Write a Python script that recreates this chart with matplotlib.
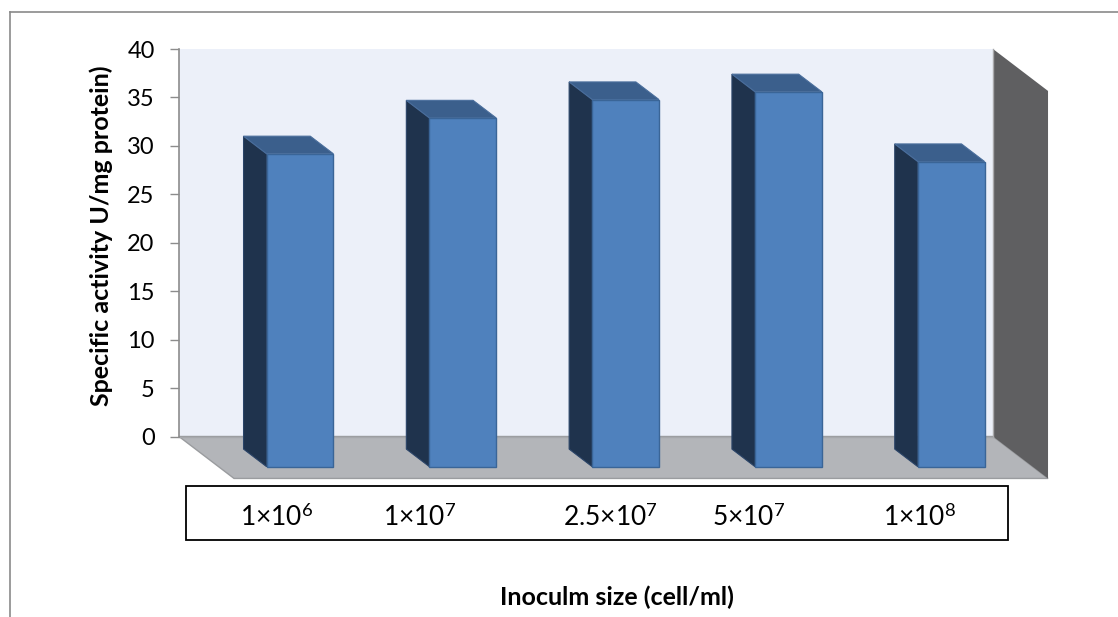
import matplotlib
matplotlib.use('Agg')
import matplotlib.pyplot as plt
from matplotlib.patches import Polygon, Rectangle
from matplotlib.lines import Line2D

# ---------------- data ----------------
categories = ['1×10$^{6}$', '1×10$^{7}$', '2.5×10$^{7}$', '5×10$^{7}$', '1×10$^{8}$']
values = [32.3, 36.0, 37.9, 38.7, 31.5]
y_ticks = [0, 5, 10, 15, 20, 25, 30, 35, 40]
y_label = 'Specific activity U/mg protein)'
x_label = 'Inoculm size (cell/ml)'

# ---------------- style ----------------
plt.rcParams['font.family'] = ['Lato', 'DejaVu Sans']
plt.rcParams['mathtext.fontset'] = 'custom'
plt.rcParams['mathtext.rm'] = 'Lato'
plt.rcParams['mathtext.it'] = 'Lato:italic'
plt.rcParams['mathtext.bf'] = 'Lato:bold'

W, H = 1118, 617
fig = plt.figure(figsize=(W / 100, H / 100), dpi=100)
fig.patch.set_facecolor('white')

def fx(px):
    return px / W

def fy(py):
    return 1 - py / H

# back-wall plotting area
ax = fig.add_axes([fx(179), fy(436.5), fx(993) - fx(179), fy(49) - fy(436.5)])
ax.set_xlim(-0.5, len(values) - 0.5)
ax.set_ylim(0, 40)
ax.set_facecolor('none')

# 3-D oblique offsets (full depth of the floor) in data units
DX = 0.338
DY = -4.33
D0, D1 = 0.30, 0.72      # bar depth range (fraction of floor depth)
HW = 0.205               # bar half width (category units)

x0, x1 = -0.5, len(values) - 0.5

wall_c = '#ECF0F9'
floor_c = '#B3B5B9'
side_wall_c = '#5F5F61'

ax.add_patch(Rectangle((x0, 0), x1 - x0, 40, facecolor=wall_c, edgecolor='none', zorder=0))
ax.add_patch(Polygon([(x0, 0), (x1, 0), (x1 + DX, DY), (x0 + DX, DY)], closed=True,
                     facecolor=floor_c, edgecolor='#9A9C9F', lw=1.0, clip_on=False, zorder=1))
ax.add_patch(Polygon([(x1, 40), (x1 + DX, 40 + DY), (x1 + DX, DY), (x1, 0)], closed=True,
                     facecolor=side_wall_c, edgecolor='none', clip_on=False, zorder=1))
ax.plot([x1, x1], [0, 40], color='#A9A9AB', lw=1.0, clip_on=False, zorder=1.5)
ax.plot([x0, x1], [0, 0], color='#A6A8AC', lw=1.0, clip_on=False, zorder=1.5)

front_c = '#4F81BD'
top_c = '#3B5F8C'
side_c = '#1F334D'
edge_c = '#3A6597'

for i, v in enumerate(values):
    xl0 = i - HW + D0 * DX
    xl1 = i - HW + D1 * DX
    xr0 = i + HW + D0 * DX
    xr1 = i + HW + D1 * DX
    yb0 = D0 * DY
    yb1 = D1 * DY
    side = Polygon([(xl0, yb0), (xl0, yb0 + v), (xl1, yb1 + v), (xl1, yb1)], closed=True,
                   facecolor=side_c, edgecolor='#2A4468', lw=0.8, clip_on=False, zorder=3)
    top = Polygon([(xl0, yb0 + v), (xr0, yb0 + v), (xr1, yb1 + v), (xl1, yb1 + v)], closed=True,
                  facecolor=top_c, edgecolor='#4A6E9C', lw=0.8, clip_on=False, zorder=3)
    front = Polygon([(xl1, yb1), (xl1, yb1 + v), (xr1, yb1 + v), (xr1, yb1)], closed=True,
                    facecolor=front_c, edgecolor=edge_c, lw=1.0, clip_on=False, zorder=4)
    ax.add_patch(side)
    ax.add_patch(top)
    ax.add_patch(front)

# axes decoration
for s in ['top', 'right', 'bottom']:
    ax.spines[s].set_visible(False)
ax.spines['left'].set_color('#8C8C8C')
ax.spines['left'].set_linewidth(1.2)
ax.set_xticks([])
ax.set_yticks(y_ticks)
ax.tick_params(axis='y', direction='out', length=6.5, width=1, color='#8C8C8C',
               pad=11, labelsize=17, labelcolor='black')

# axis titles
fig.text(fx(101), fy(236), y_label, rotation=90, ha='center', va='center',
         fontsize=18, fontweight='bold')
fig.text(fx(617), fy(597), x_label, ha='center', va='center',
         fontsize=18, fontweight='bold')

# category label box
fig.add_artist(Rectangle((fx(185.5), fy(539.5)), fx(1007.5) - fx(185.5), fy(485.5) - fy(539.5),
                         transform=fig.transFigure, fill=False, edgecolor='black', lw=1.3))
label_x = [277, 420, 610, 749, 920]
for lx, lab in zip(label_x, categories):
    fig.text(fx(lx), fy(526), lab, ha='center', va='baseline', fontsize=19)

# outer chart border
border_c = '#8A8A8A'
fig.add_artist(Line2D([fx(10), fx(W + 5)], [fy(12), fy(12)], transform=fig.transFigure,
                      color=border_c, lw=1.2))
fig.add_artist(Line2D([fx(10), fx(10)], [fy(12), fy(640)], transform=fig.transFigure,
                      color=border_c, lw=1.2))

fig.savefig('out.png', dpi=100)
